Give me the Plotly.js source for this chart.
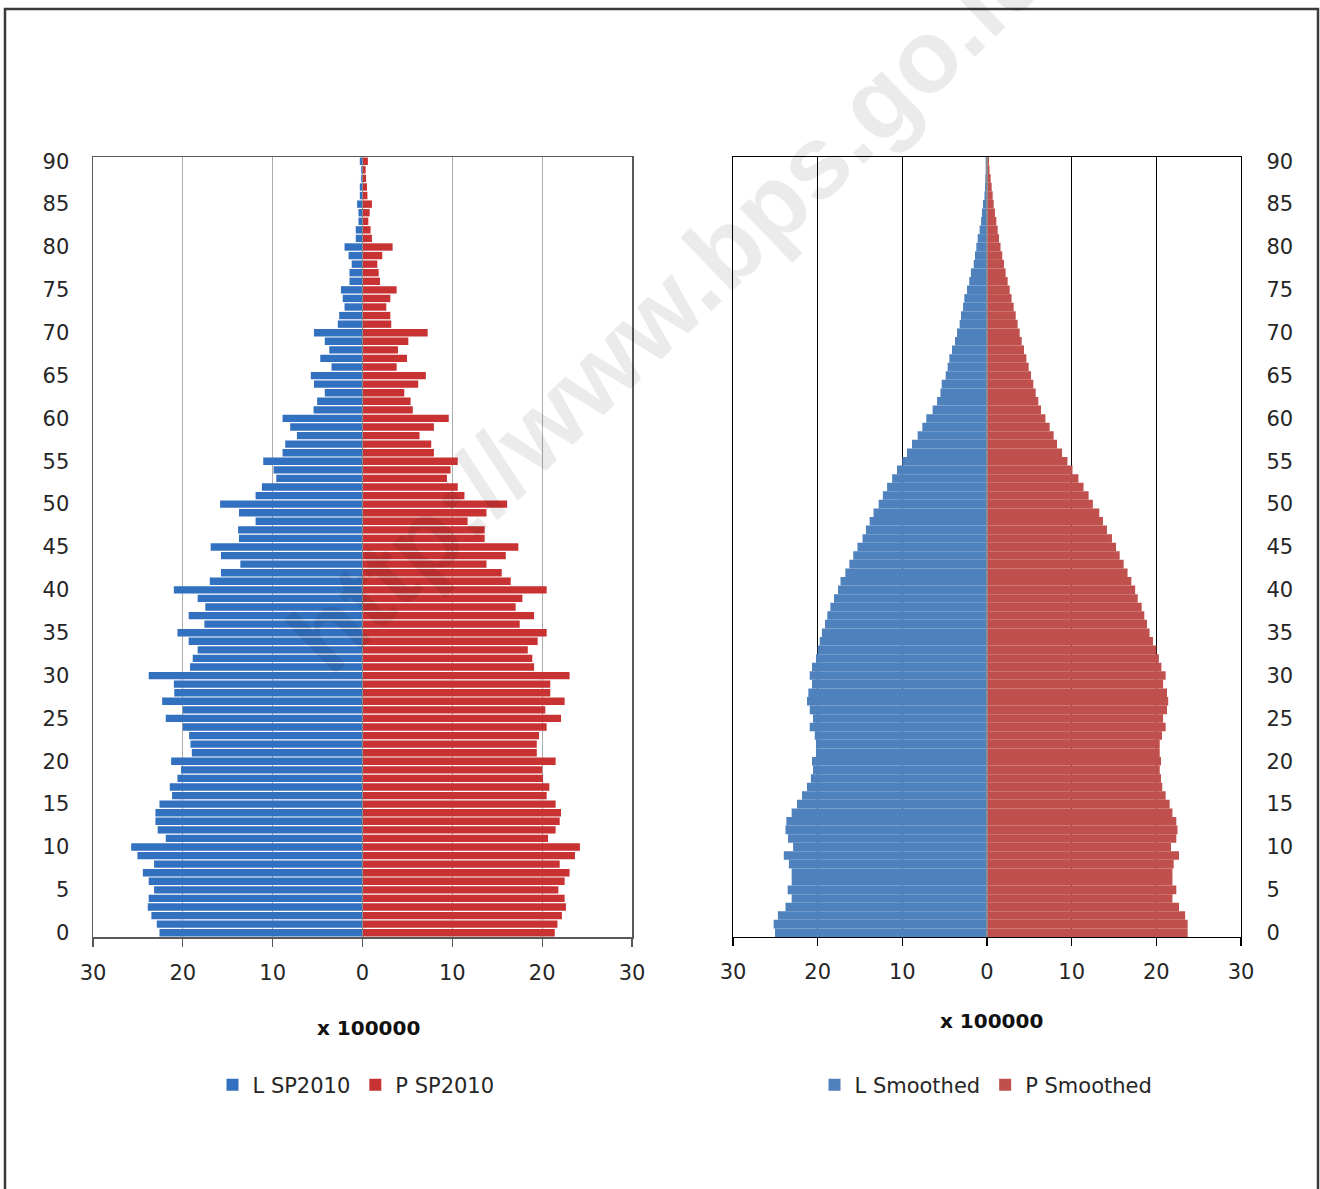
<!DOCTYPE html>
<html>
<head>
<meta charset="utf-8">
<script src="https://cdn.plot.ly/plotly-3.0.1.min.js"></script>
<style>html,body{margin:0;padding:0;background:#fff;}#chart{width:1320px;height:1189px;}</style>
</head>
<body>
<div id="chart"></div>
<script>
// Age categories (0 .. 90)
const ages = [0,1,2,3,4,5,6,7,8,9,10,11,12,13,14,15,16,17,18,19,20,21,22,23,24,25,26,27,28,29,30,31,32,33,34,35,36,37,38,39,40,41,42,43,44,45,46,47,48,49,50,51,52,53,54,55,56,57,58,59,60,61,62,63,64,65,66,67,68,69,70,71,72,73,74,75,76,77,78,79,80,81,82,83,84,85,86,87,88,89,90];

// Values in units of 100000, index = age
const L_SP2010 = [22.6,22.9,23.5,23.9,23.8,23.2,23.8,24.45,23.2,25.05,25.75,21.9,22.8,23.05,23.05,22.6,21.2,21.45,20.6,20.2,21.3,19.0,19.15,19.3,20.0,21.9,20.0,22.3,20.95,21.0,23.8,19.2,18.9,18.35,19.35,20.6,17.6,19.35,17.5,18.35,21.0,17.0,15.75,13.6,15.75,16.9,13.75,13.85,11.9,13.75,15.85,11.9,11.2,9.6,9.9,11.05,8.9,8.6,7.3,8.05,8.9,5.45,5.05,4.2,5.4,5.75,3.45,4.7,3.7,4.2,5.4,2.75,2.6,2.0,2.2,2.4,1.45,1.45,1.2,1.55,2.0,0.75,0.75,0.45,0.45,0.6,0.3,0.3,0.15,0.15,0.3];
const P_SP2010 = [21.4,21.7,22.2,22.65,22.5,21.8,22.5,23.05,21.95,23.65,24.2,20.65,21.5,21.95,22.1,21.5,20.5,20.8,20.1,20.0,21.5,19.4,19.4,19.65,20.5,22.1,20.35,22.5,20.9,20.9,23.05,19.1,18.9,18.4,19.5,20.5,17.5,19.1,17.05,17.8,20.5,16.5,15.5,13.8,15.95,17.35,13.6,13.6,11.7,13.8,16.1,11.35,10.6,9.4,9.8,10.6,7.95,7.65,6.35,7.95,9.6,5.6,5.35,4.65,6.2,7.05,3.8,4.95,3.95,5.1,7.25,3.2,3.1,2.65,3.1,3.8,1.95,1.8,1.65,2.2,3.35,1.05,0.9,0.65,0.8,1.05,0.55,0.5,0.4,0.35,0.6];
const L_Smoothed = [25.04,25.2,24.7,23.8,23.07,23.54,23.07,23.07,23.4,24.0,22.9,23.5,23.8,23.7,23.07,22.44,21.85,21.26,20.8,20.55,20.67,20.2,20.2,20.35,20.94,20.55,20.94,21.26,21.1,20.67,20.94,20.67,20.2,20.0,19.76,19.5,19.13,18.86,18.5,18.07,17.6,17.3,16.73,16.26,15.8,15.3,14.7,14.3,13.86,13.4,12.8,12.3,11.8,11.2,10.63,10.0,9.45,8.86,8.19,7.64,7.17,6.42,5.9,5.5,5.35,4.88,4.65,4.45,4.13,3.78,3.54,3.23,3.07,2.83,2.68,2.36,2.1,1.9,1.57,1.42,1.26,1.1,0.87,0.7,0.6,0.47,0.3,0.24,0.2,0.16,0.16];
const P_Smoothed = [23.7,23.7,23.4,22.68,21.9,22.36,21.9,21.9,22.05,22.68,21.73,22.36,22.5,22.36,21.9,21.57,21.1,20.7,20.55,20.4,20.55,20.4,20.4,20.67,21.1,20.8,21.26,21.4,21.26,20.8,21.1,20.6,20.3,20.0,19.6,19.2,18.9,18.58,18.27,17.8,17.5,17.05,16.6,16.14,15.67,15.24,14.76,14.17,13.7,13.27,12.5,12.0,11.4,10.8,10.1,9.5,8.86,8.27,7.87,7.4,6.9,6.38,6.06,5.75,5.47,5.2,4.92,4.65,4.37,4.1,3.86,3.62,3.39,3.15,2.9,2.68,2.44,2.2,2.0,1.8,1.6,1.42,1.26,1.1,0.94,0.79,0.67,0.55,0.43,0.3,0.24];

// Tick labels / tick positions
const yTickVals = [0,5,10,15,20,25,30,35,40,45,50,55,60,65,70,75,80,85,90];
const yMidTicks = [-0.5,4.5,9.5,14.5,19.5,24.5,29.5,34.5,39.5,44.5,49.5,54.5,59.5,64.5,69.5,74.5,79.5,84.5,89.5];
const xTickVals = [-30,-20,-10,0,10,20,30];
const xTickText = ['30','20','10','0','10','20','30'];

const FONT = '"DejaVu Sans", sans-serif';
const neg = a => a.map(v => -v);

const traces = [
  {type:'bar', orientation:'h', name:'L SP2010', y:ages, x:neg(L_SP2010), xaxis:'x', yaxis:'y',
   width:0.86, marker:{color:'#3270C0', line:{width:0}}, legend:'legend'},
  {type:'bar', orientation:'h', name:'P SP2010', y:ages, x:P_SP2010, xaxis:'x', yaxis:'y',
   width:0.86, marker:{color:'#C83232', line:{width:0}}, legend:'legend'},
  {type:'bar', orientation:'h', name:'L Smoothed', y:ages, x:neg(L_Smoothed), xaxis:'x2', yaxis:'y2',
   width:1, marker:{color:'#4F81BD', line:{width:0}}, legend:'legend2'},
  {type:'bar', orientation:'h', name:'P Smoothed', y:ages, x:P_Smoothed, xaxis:'x2', yaxis:'y2',
   width:1, marker:{color:'#C0504D', line:{width:0}}, legend:'legend2'}
];

const W = 1320, H = 1189;
const px = v => v / W;
const py = v => (H - v) / H;
const yDom = [py(937), py(157)];

const tickFont = {family: FONT, size: 21, color: '#262626'};

const xCommon = {
  range:[-30,30], tickmode:'array', tickvals:xTickVals, ticktext:xTickText,
  ticks:'outside', ticklen:8, tickwidth:1.2, tickfont:tickFont,
  ticklabelstandoff:8, showline:true, mirror:true, zeroline:true,
  zerolinecolor:'#8c8c8c', zerolinewidth:1.5, zerolinelayer:'above traces', fixedrange:true
};

const midAxis = {
  domain:yDom, range:[-0.5,90.5], tickmode:'array', tickvals:yMidTicks,
  ticks:'outside', ticklen:8, tickwidth:1.2, tickcolor:'#8c8c8c',
  showticklabels:false, showline:false, showgrid:false, zeroline:false,
  anchor:'free', side:'left', layer:'above traces', fixedrange:true
};

const layout = {
  width:W, height:H, margin:{l:0,r:0,t:0,b:0},
  paper_bgcolor:'#ffffff', plot_bgcolor:'#ffffff',
  barmode:'overlay', showlegend:true,
  font:{family:FONT, color:'#262626'},
  xaxis: Object.assign({}, xCommon, {domain:[px(93), px(632)], anchor:'y',
    showgrid:true, gridcolor:'#ababab', gridwidth:1, linecolor:'#595959', linewidth:1.5, tickcolor:'#595959'}),
  xaxis2: Object.assign({}, xCommon, {domain:[px(733), px(1241)], anchor:'y2',
    showgrid:true, gridcolor:'#000000', gridwidth:1, linecolor:'#000000', linewidth:1.2, tickcolor:'#000000'}),
  yaxis: {domain:yDom, anchor:'x', range:[-0.5,90.5], tickmode:'array', tickvals:yTickVals,
    ticks:'', tickfont:tickFont, ticklabelstandoff:18, showgrid:false, zeroline:false,
    showline:true, mirror:true, linecolor:'#595959', linewidth:1.5, fixedrange:true},
  yaxis2: {domain:yDom, anchor:'x2', side:'right', range:[-0.5,90.5], tickmode:'array', tickvals:yTickVals,
    ticks:'', tickfont:tickFont, ticklabelstandoff:20, showgrid:false, zeroline:false,
    showline:true, mirror:true, linecolor:'#000000', linewidth:1.2, fixedrange:true},
  yaxis3: Object.assign({}, midAxis, {overlaying:'y', position:px(362)}),
  yaxis4: Object.assign({}, midAxis, {overlaying:'y2', position:px(987)}),
  legend: {orientation:'h', x:px(356), xanchor:'center', y:py(1085), yanchor:'middle',
    font:{family:FONT, size:21, color:'#262626'}, bgcolor:'rgba(0,0,0,0)', traceorder:'normal'},
  legend2: {orientation:'h', x:px(986), xanchor:'center', y:py(1085), yanchor:'middle',
    font:{family:FONT, size:21, color:'#262626'}, bgcolor:'rgba(0,0,0,0)', traceorder:'normal'},
  annotations: [
    {text:'x 100000', xref:'paper', yref:'paper', x:px(368), y:py(1028), xanchor:'center', yanchor:'middle',
     showarrow:false, font:{family:FONT, size:20, color:'#111', weight:'bold'}},
    {text:'x 100000', xref:'paper', yref:'paper', x:px(992), y:py(1021), xanchor:'center', yanchor:'middle',
     showarrow:false, font:{family:FONT, size:20, color:'#111', weight:'bold'}},
    {text:'http://www.bps.go.id', xref:'paper', yref:'paper', x:px(668), y:py(303), xanchor:'center', yanchor:'middle',
     showarrow:false, textangle:-44, font:{family:'"Liberation Sans", Arial, sans-serif', size:103, color:'rgba(0,0,0,0.08)', weight:'bold'}}
  ],
  shapes: [
    {type:'rect', xref:'paper', yref:'paper', x0:px(5), x1:px(1318), y0:-0.05, y1:py(9),
     line:{color:'#3a3a3a', width:2.5}, fillcolor:'rgba(0,0,0,0)', layer:'above'}
  ]
};

Plotly.newPlot('chart', traces, layout, {staticPlot:true, displayModeBar:false});
</script>
</body>
</html>
